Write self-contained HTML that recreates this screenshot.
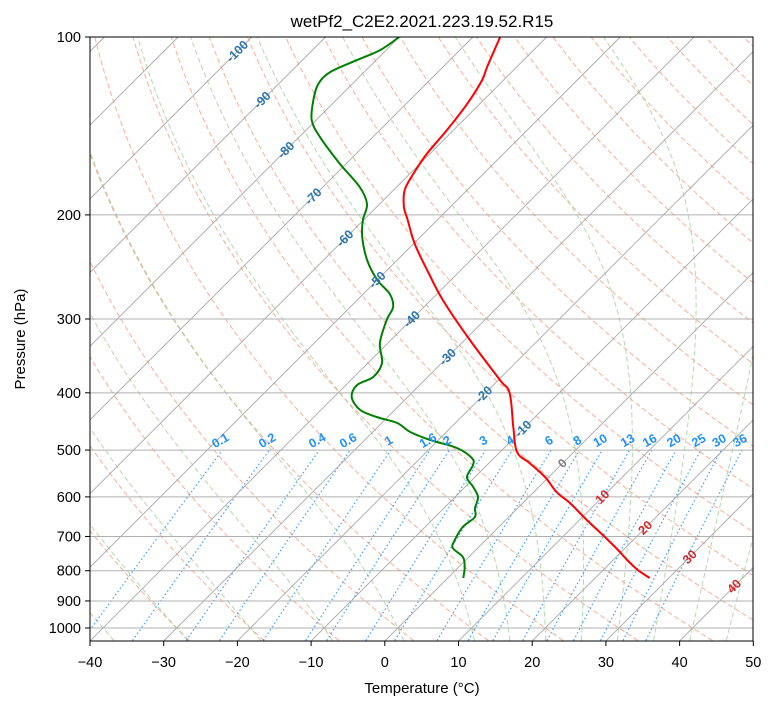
<!DOCTYPE html>
<html><head><meta charset="utf-8"><style>
body{margin:0;background:#fff;}
svg text{font-family:"Liberation Sans","DejaVu Sans",sans-serif;}
</style></head><body>
<svg id="chart" width="775" height="708" xmlns="http://www.w3.org/2000/svg">
<rect width="775" height="708" fill="#fff"/>
<defs><clipPath id="clip"><rect x="90" y="37" width="663" height="604"/></clipPath></defs>
<g id="bg" clip-path="url(#clip)"></g>
<g id="fg" clip-path="url(#clip)"></g>
<g id="lab"></g>
<rect x="90" y="37" width="663" height="604" fill="none" stroke="#000" stroke-width="1"/>
<g id="axes"></g>
<text x="422" y="27" text-anchor="middle" font-size="17">wetPf2_C2E2.2021.223.19.52.R15</text>
<text x="422" y="693" text-anchor="middle" font-size="15">Temperature (°C)</text>
<text x="25" y="339" text-anchor="middle" font-size="15" transform="rotate(-90 25 339)">Pressure (hPa)</text>
</svg>
<script>
// ---- data ----
const tempP=[100,112.4,118.3,129.8,143.7,157.8,170.5,181.5,193.9,203.2,224,247.9,278.6,325.6,380.5,400.4,457,503.8,525.9,555.4,588.8,614.5,656.6,696.1,738,767.4,797.8,823];
const tempT=[-66.3,-64.0,-62.9,-61.7,-60.9,-60.4,-59.5,-58.5,-56.3,-54.2,-49.8,-44.6,-38.4,-29.3,-19.8,-16.7,-11.6,-7.7,-4.5,-0.5,3.1,6.4,11.0,15.2,19.3,21.9,24.7,27.4];
const dewP=[100,105.2,109.4,114.6,120.1,127.8,138.2,147.6,164,179.4,191.7,204,217.9,238.4,257.7,272.2,286.3,301.2,329.4,356.2,376.1,388,406.6,427.6,439.5,449.9,466,480.8,496,515.8,530,555.4,577.3,600.2,626.6,649,674.7,709.8,732.1,758.4,788.5,823];
const dewT=[-80.0,-80.8,-82.6,-84.6,-84.6,-83.1,-80.6,-77.2,-70.8,-65.0,-61.7,-60.1,-57.9,-54.1,-50.0,-46.4,-44.2,-43.3,-41.1,-38.1,-37.4,-38.5,-37.6,-34.7,-31.5,-27.9,-24.9,-21.1,-16.4,-13.0,-11.9,-11.1,-8.9,-6.9,-5.8,-4.6,-4.9,-4.2,-3.4,-0.8,0.8,2.1];
const pTicks=[100,200,300,400,500,600,700,800,900,1000];
const tTicks=[-40,-30,-20,-10,0,10,20,30,40,50];
const mixRatios=[0.1,0.2,0.4,0.6,1,1.6,2,3,4,6,8,10,13,16,20,25,30,36];
const isoLabelT=[-100,-90,-80,-70,-60,-50,-40,-30,-20,-10,0,10,20,30,40];
const isoLabelP=[105.8,127.9,155.4,186.2,219.3,257.7,300.3,347.9,402.6,460.4,526.5,600.2,676.8,758.4,850.4];
// ---- scales ----
const X0=90,Y0=37,YB=641,KT=7.37,DEC=591;
function yP(p){return Y0+DEC*Math.log10(p/100);}
function xT(t,p){const y=yP(p);return X0+(t+40)*KT+(YB-y);}
const NS="http://www.w3.org/2000/svg";
function mk(tag,attrs,parent){const e=document.createElementNS(NS,tag);for(const k in attrs)e.setAttribute(k,attrs[k]);parent.appendChild(e);return e;}
const bg=document.getElementById('bg'),fg=document.getElementById('fg'),lab=document.getElementById('lab'),ax=document.getElementById('axes');
function pathFrom(ps,ts){return ps.map((p,i)=>(i?'L':'M')+xT(ts[i],p).toFixed(1)+','+yP(p).toFixed(1)).join('');}
function smoothFrom(ps,ts){
  const pts=ps.map((p,i)=>[xT(ts[i],p),yP(p)]);
  let d='M'+pts[0][0].toFixed(1)+','+pts[0][1].toFixed(1);
  for(let i=0;i<pts.length-1;i++){
    const p0=pts[Math.max(0,i-1)],p1=pts[i],p2=pts[i+1],p3=pts[Math.min(pts.length-1,i+2)];
    const c1=[p1[0]+(p2[0]-p0[0])/6,p1[1]+(p2[1]-p0[1])/6],c2=[p2[0]-(p3[0]-p1[0])/6,p2[1]-(p3[1]-p1[1])/6];
    d+='C'+c1[0].toFixed(1)+','+c1[1].toFixed(1)+' '+c2[0].toFixed(1)+','+c2[1].toFixed(1)+' '+p2[0].toFixed(1)+','+p2[1].toFixed(1);
  }
  return d;
}
const plev=[];for(let p=1050;p>=100;p-=5)plev.push(p);
// dry adiabats
for(let th=-30;th<=250;th+=10){
  const ts=plev.map(p=>(th+273.15)*Math.pow(p/1000,0.2857)-273.15);
  const e=mk('path',{d:pathFrom(plev,ts),fill:'none',stroke:'#f79a7c','stroke-width':1,'stroke-dasharray':'5,3',opacity:0.8},bg);
  
  
}
// moist adiabats
function es(T){const t=T-273.15;return 6.112*Math.exp(17.67*t/(t+243.5));}
function dTdp(p,T){const e=es(T);const rs=0.622*e/(p-e);const Rd=287.04,Lv=2.501e6,Cp=1005.7,eps=0.622;
  return (Rd*T+Lv*rs)/(p*(Cp+Lv*Lv*rs*eps/(Rd*T*T)));}
function moist(t0){
  const res={};let T=t0+273.15;res[1000]=T;
  for(let p=1000;p>100;p-=5){const h=-5;const k1=dTdp(p,T),k2=dTdp(p+h/2,T+h/2*k1),k3=dTdp(p+h/2,T+h/2*k2),k4=dTdp(p+h,T+h*k3);T+=h/6*(k1+2*k2+2*k3+k4);res[p-5]=T;}
  T=t0+273.15;for(let p=1000;p<1050;p+=5){const h=5;const k1=dTdp(p,T),k2=dTdp(p+h/2,T+h/2*k1),k3=dTdp(p+h/2,T+h/2*k2),k4=dTdp(p+h,T+h*k3);T+=h/6*(k1+2*k2+2*k3+k4);res[p+5]=T;}
  return plev.map(p=>res[p]-273.15);
}
const moistT0=[-50,-40,-30,-20,-10,0,10,15,20,25,30,35,40,45];
moistT0.forEach(t0=>{
  const e=mk('path',{d:pathFrom(plev,moist(t0)),fill:'none',stroke:'#a0d09a','stroke-width':1,'stroke-dasharray':'5,3',opacity:0.8},bg);
  
  
});
// mixing ratio lines
function tdFromW(w,p){const ww=w/1000;const e=ww*p/(0.622+ww);const l=Math.log(e/6.112);return 243.5*l/(17.67-l);}
const mlev=[];for(let p=1050;p>=500;p-=10)mlev.push(p);
mixRatios.forEach(w=>{
  const e=mk('path',{d:pathFrom(mlev,mlev.map(p=>tdFromW(w,p))),fill:'none',stroke:'#1e90ff','stroke-width':1.2,'stroke-dasharray':'1.5,2.5',opacity:0.85},bg);
  
  
  const x=xT(tdFromW(w,500),500),y=yP(500)-6;
  const t=mk('text',{x:x,y:y,'text-anchor':'middle','font-size':12.5,'font-weight':'bold',fill:'#1e90ff',transform:`rotate(-30 ${x} ${y})`},lab);
  t.textContent=String(w);
  
  
});
// isotherms
for(let t=-150;t<=50;t+=10){
  const e=mk('line',{x1:xT(t,1050),y1:yP(1050),x2:xT(t,100),y2:yP(100),stroke:'#a8a8a8','stroke-width':0.9},bg);
  
  
}
// pressure grid
pTicks.forEach(p=>{
  const e=mk('line',{x1:90,x2:753,y1:yP(p),y2:yP(p),stroke:'#b0b0b0','stroke-width':1},bg);
  
  
});
// isotherm labels
isoLabelT.forEach((t,i)=>{
  const p=isoLabelP[i];const x=xT(t,p),y=yP(p);
  const col=t<0?'#2a74b0':(t===0?'#808080':'#d62728');
  const e=mk('text',{x:x,y:y+4,'text-anchor':'middle','font-size':12.5,'font-weight':'bold',fill:col,transform:`rotate(-45 ${x} ${y})`},lab);
  e.textContent=String(t);
  
  
});
// profiles
const tp=mk('path',{d:smoothFrom(tempP,tempT),fill:'none',stroke:'#ff0000','stroke-width':2,'stroke-linejoin':'round'},fg);


const dp=mk('path',{d:smoothFrom(dewP,dewT),fill:'none',stroke:'#008000','stroke-width':2,'stroke-linejoin':'round'},fg);


// axes ticks
pTicks.forEach(p=>{
  const y=yP(p);
  const l=mk('line',{x1:85,x2:90,y1:y,y2:y,stroke:'#000'},ax);
  
  
  const t=mk('text',{x:81,y:y+5,'text-anchor':'end','font-size':14.5},ax);
  t.textContent=String(p);
  
  
});
tTicks.forEach(tv=>{
  const x=X0+(tv+40)*KT;
  const l=mk('line',{x1:x,x2:x,y1:641,y2:646,stroke:'#000'},ax);
  
  
  const t=mk('text',{x:x,y:667,'text-anchor':'middle','font-size':14.5},ax);
  t.textContent=(tv<0?'−':'')+Math.abs(tv);
  
  
});
</script>
</body></html>
